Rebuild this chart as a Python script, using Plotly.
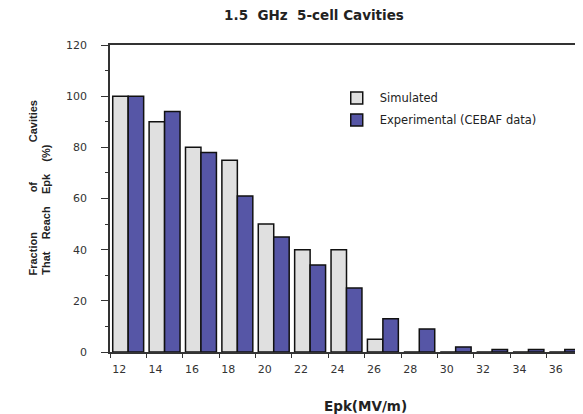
import plotly.graph_objects as go

categories = ["12", "14", "16", "18", "20", "22", "24", "26", "28", "30", "32", "34", "36"]
simulated = [100, 90, 80, 75, 50, 40, 40, 5, 0, 0, 0, 0, 0]
experimental = [100, 94, 78, 61, 45, 34, 25, 13, 9, 2, 1, 1, 1]

FONT = "Liberation Sans, Arial, sans-serif"
WIDE = "DejaVu Sans, Verdana, sans-serif"
NB = "&nbsp;"

fig = go.Figure()
fig.add_trace(go.Bar(x=categories, y=simulated, name="Simulated", legendgroup="sim",
                     marker=dict(color="#e0e0e0", line=dict(color="#111111", width=1.5))))
fig.add_trace(go.Bar(x=categories, y=experimental, name="Experimental (CEBAF data)", legendgroup="exp",
                     marker=dict(color="#5656a6", line=dict(color="#111111", width=1.5))))

# page body has an 8px margin; figure is sized/positioned to compensate
fig.update_layout(
    width=575, height=406,
    margin=dict(l=102, r=0, t=37, b=62, autoexpand=False),
    paper_bgcolor="white", plot_bgcolor="white",
    barmode="group", bargap=0.15, bargroupgap=0,
    font=dict(family=FONT, color="#222222", size=10),
    title=dict(text="1.5  GHz  5-cell Cavities", x=306 / 575, xref="container", xanchor="center",
               y=1 - 7 / 406, yref="container", yanchor="middle",
               font=dict(family=WIDE, size=13.5, color="#222222", weight="bold")),
    showlegend=True,
    legend=dict(x=0.473, y=0.875, xanchor="left", yanchor="top", bgcolor="rgba(0,0,0,0)",
                font=dict(size=11.5, family=WIDE, color="#222222"), itemwidth=36, tracegroupgap=3),
    xaxis=dict(type="category", showline=True, linecolor="#333333", linewidth=1.5, mirror=True,
               ticks="outside", tickson="boundaries", ticklen=4, tickcolor="#333333",
               showgrid=False, automargin=False, ticklabelshift=-9, ticklabelstandoff=6,
               tickfont=dict(size=11, family=WIDE, color="#333333")),
    yaxis=dict(range=[0, 120], dtick=20, showline=True, linecolor="#333333", linewidth=1.5,
               ticks="outside", ticklen=7, tickcolor="#333333", showgrid=False, zeroline=False,
               automargin=False, ticklabelstandoff=12,
               tickfont=dict(size=11, family=WIDE, color="#333333"),
               minor=dict(dtick=10, ticks="outside", ticklen=3, tickcolor="#333333")),
    annotations=[
        dict(text="Fraction" + NB * 13 + "of" + NB * 13 + "Cavities",
             textangle=-90, xref="paper", yref="paper", x=-0.163, y=0.244,
             xanchor="center", yanchor="bottom", showarrow=False,
             font=dict(size=11, family=FONT, color="#222222", weight="bold")),
        dict(text="That" + NB * 4 + "Reach" + NB * 4 + "Epk" + NB * 4 + "(%)",
             textangle=-90, xref="paper", yref="paper", x=-0.137, y=0.244,
             xanchor="center", yanchor="bottom", showarrow=False,
             font=dict(size=11, family=FONT, color="#222222", weight="bold")),
        dict(text="Epk(MV/m)", xref="paper", yref="paper", x=0.541, y=-0.176,
             xanchor="center", yanchor="middle", showarrow=False,
             font=dict(size=13.5, family=WIDE, color="#222222", weight="bold")),
    ],
)

fig.write_html("out.html")
